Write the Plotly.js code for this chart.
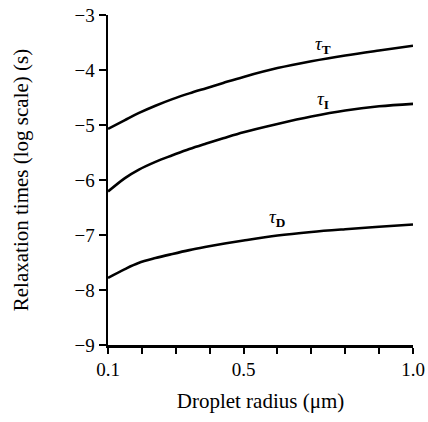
<!DOCTYPE html>
<html>
<head>
<meta charset="utf-8">
<script src="https://cdn.plot.ly/plotly-3.0.1.min.js"></script>
<style>html,body{margin:0;padding:0;background:#fff;}#chart{width:428px;height:422px;}</style>
</head>
<body>
<div id="chart"></div>
<script>
// Droplet radius (µm)
const radius = [0.1, 0.15, 0.19, 0.24, 0.29, 0.34, 0.39, 0.44, 0.5, 0.6, 0.7, 0.8, 0.9, 1.0];
// log10 relaxation times (s)
const tauT = [-5.07, -4.91, -4.785, -4.65, -4.53, -4.425, -4.33, -4.235, -4.125, -3.965, -3.84, -3.735, -3.645, -3.56];
const tauI = [-6.21, -5.965, -5.815, -5.67, -5.55, -5.435, -5.335, -5.24, -5.13, -4.98, -4.845, -4.735, -4.66, -4.615];
const tauD = [-7.78, -7.62, -7.51, -7.42, -7.345, -7.275, -7.215, -7.16, -7.10, -7.01, -6.945, -6.895, -6.85, -6.81];
const curveSym = ['τ', 'τ', 'τ'];
const curveSub = ['T', 'I', 'D'];
const labelX = [0.734, 0.734, 0.60];
const labelY = [-3.54, -4.54, -6.69];
const xTickVals = [0.1, 0.2, 0.3, 0.4, 0.5, 0.6, 0.7, 0.8, 0.9, 1.0];
const xTickText = ['0.1', '', '', '', '0.5', '', '', '', '', '1.0'];
const yTickVals = [-9, -8, -7, -6, -5, -4, -3];

const font = 'Liberation Serif, Times New Roman, serif';
const series = [tauT, tauI, tauD];
const traces = series.map((s, i) => ({
  x: radius, y: s, mode: 'lines', type: 'scatter', name: curveSym[i] + curveSub[i],
  line: {color: '#000', width: 2.6, shape: 'spline', smoothing: 1},
  showlegend: false, hoverinfo: 'skip'
}));

const annotations = curveSym.map((n, i) => ({
  x: labelX[i], y: labelY[i], xref: 'x', yref: 'y',
  text: '<i>' + n + '</i><sub><b>' + curveSub[i] + '</b></sub>',
  showarrow: false, font: {family: font, size: 19, color: '#000'}
}));

const layout = {
  width: 428, height: 422,
  margin: {l: 108, r: 15, t: 15, b: 76.5, pad: 0},
  paper_bgcolor: '#fff', plot_bgcolor: '#fff',
  font: {family: font, color: '#000', size: 19},
  showlegend: false,
  xaxis: {
    range: [0.1, 1.0], tickvals: xTickVals, ticktext: xTickText,
    ticks: 'outside', ticklen: 6, tickwidth: 2, tickcolor: '#000',
    showline: true, linewidth: 2.5, linecolor: '#000',
    showgrid: false, zeroline: false, automargin: false,
    tickfont: {family: font, size: 19, color: '#000'},
    title: {text: 'Droplet radius (μm)', standoff: 14, font: {family: font, size: 21, color: '#000'}}
  },
  yaxis: {
    range: [-9, -3], tickvals: yTickVals,
    ticks: 'outside', ticklen: 7, tickwidth: 2, tickcolor: '#000',
    showline: true, linewidth: 2.5, linecolor: '#000',
    showgrid: false, zeroline: false, automargin: false,
    tickfont: {family: font, size: 19, color: '#000'},
    title: {text: 'Relaxation times (log scale) (s)', standoff: 40, font: {family: font, size: 21, color: '#000'}}
  },
  annotations: annotations
};

Plotly.newPlot('chart', traces, layout, {displayModeBar: false, staticPlot: true});
</script>
</body>
</html>
